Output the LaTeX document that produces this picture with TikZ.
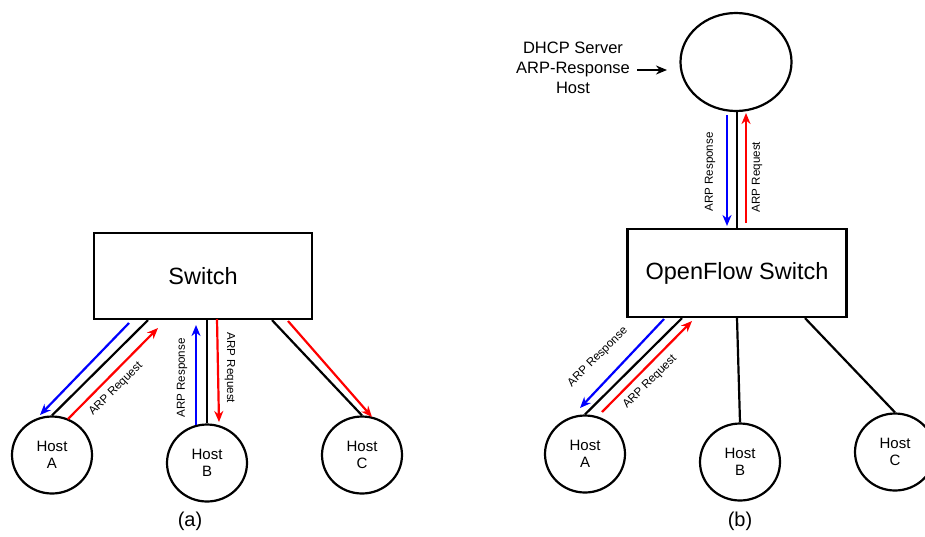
\documentclass[tikz,border=0pt]{standalone}
\usepackage{fontspec}
\setmainfont{Liberation Sans}
\usetikzlibrary{arrows.meta,shapes.geometric}

\tikzset{
  link/.style={line width=2.2pt, black},
  flowtip/.style={-{Stealth[length=11pt,width=9pt,inset=3.5pt]}},
  resp/.style={link, flowtip, blue},
  req/.style={link, flowtip, red},
  host/.style={ellipse, draw, line width=2.2pt, minimum width=80pt, minimum height=77pt,
    inner sep=0pt, align=center, font=\fontsize{15}{17.5}\selectfont},
  switchbox/.style={rectangle, draw, line width=2.2pt, inner sep=0pt,
    font=\fontsize{23.5}{27}\selectfont},
  flowlabel/.style={font=\fontsize{11.6}{13}\selectfont, inner sep=0pt},
  caption/.style={font=\fontsize{20}{24}\selectfont},
}

\begin{document}
\begin{tikzpicture}[x=1pt, y=-1pt]
  \useasboundingbox (0,0) rectangle (925,536);
  \clip (0,0) rectangle (925,536);

  % ---------- (a) ordinary switch ----------
  \node[switchbox, minimum width=218pt, minimum height=86pt] (sw) at (203,276) {Switch};
  \node[host] (ha) at (52,455) {Host\\A};
  \node[host] (hb) at (207,463) {Host\\B};
  \node[host] (hc) at (362,455) {Host\\C};

  \draw[link] (sw.south -| 148,0) -- (ha.north);
  \draw[link] (sw.south -| 207,0) -- (hb.north);
  \draw[link] (sw.south -| 272,0) -- (hc.north);

  \coordinate (aA1) at (129,323); \coordinate (aA2) at (40,415);
  \coordinate (aA3) at (68,419);  \coordinate (aA4) at (158,328);
  \coordinate (aB1) at (196,425); \coordinate (aB2) at (196,325);
  \coordinate (aB3) at (217,319); \coordinate (aB4) at (219,422);
  \coordinate (aC1) at (288,321); \coordinate (aC2) at (372,417);

  \draw[resp] (aA1) -- (aA2);
  \draw[req]  (aA3) -- (aA4);
  \draw[resp] (aB1) -- (aB2);
  \draw[req]  (aB3) -- (aB4);
  \draw[req]  (aC1) -- (aC2);

  \node[flowlabel, rotate=45]  (la1) at (116,389) {ARP Request};
  \node[flowlabel, rotate=90]  (la2) at (182,378) {ARP Response};
  \node[flowlabel, rotate=-90] (la3) at (230,368) {ARP Request};

  \node[caption] (capa) at (190,521) {(a)};

  % ---------- (b) OpenFlow switch ----------
  \node[switchbox, minimum width=219pt, minimum height=88pt] (osw) at (737,273) {OpenFlow Switch};
  \node[ellipse, draw, line width=2.2pt, minimum width=111pt, minimum height=98pt, inner sep=0pt]
    (srv) at (736,62) {};
  \node[host] (hA) at (585,454) {Host\\A};
  \node[host] (hB) at (740,462) {Host\\B};
  \node[host] (hC) at (895,452) {Host\\C};

  \draw[link] (srv.south -| 737,0) -- (osw.north -| 737,0);
  \draw[link] (osw.south -| 682,0) -- (hA.north);
  \draw[link] (osw.south -| 737,0) -- (hB.north);
  \draw[link] (osw.south -| 805,0) -- (hC.north);

  \coordinate (bT1) at (727,115); \coordinate (bT2) at (727,226);
  \coordinate (bT3) at (746,223); \coordinate (bT4) at (746,113);
  \coordinate (bA1) at (664,319); \coordinate (bA2) at (580,408);
  \coordinate (bA3) at (602,412); \coordinate (bA4) at (692,321);

  \draw[resp] (bT1) -- (bT2);
  \draw[req]  (bT3) -- (bT4);
  \draw[resp] (bA1) -- (bA2);
  \draw[req]  (bA3) -- (bA4);

  \node[flowlabel, rotate=90] (lb1) at (710,172) {ARP Response};
  \node[flowlabel, rotate=90] (lb2) at (757,177) {ARP Request};
  \node[flowlabel, rotate=45] (lb3) at (598,357) {ARP Response};
  \node[flowlabel, rotate=45] (lb4) at (650,382) {ARP Request};

  \node[align=center, font=\fontsize{16.5}{20}\selectfont, inner sep=0pt]
    (dhcp) at (573,68) {DHCP Server\\ARP-Response\\Host};
  \coordinate (ptr) at (667,70);
  \draw[link, -{Stealth[length=11pt,width=9pt,inset=3.5pt]}] (dhcp.east |- 0,70) ++(7,0) -- (ptr);

  \node[caption] (capb) at (740,521) {(b)};
\end{tikzpicture}
\end{document}
